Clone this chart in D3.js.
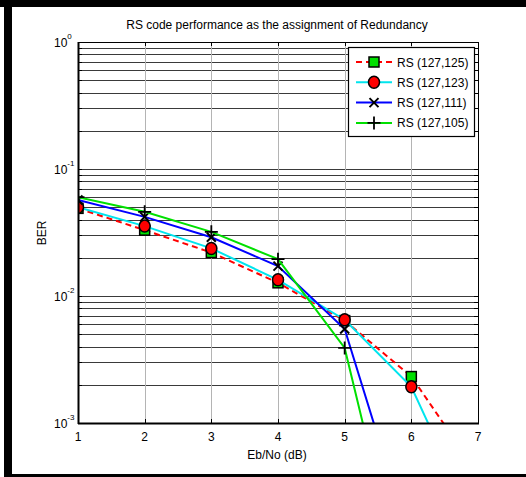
<!DOCTYPE html>
<html>
<head>
<meta charset="utf-8">
<script src="https://cdn.jsdelivr.net/npm/d3@7/dist/d3.min.js"></script>
<style>
  html, body { margin: 0; padding: 0; background: #fff; }
  svg { display: block; }
  text { font-family: "Liberation Sans", Arial, sans-serif; fill: #000; }
</style>
</head>
<body>
<svg id="chart" width="526" height="477"></svg>
<script>
// Eb/No values (dB)
const ebno = [1, 2, 3, 4, 5, 6, 7];

// BER per code rate
const ber125 = [0.049, 0.033, 0.022, 0.0127, 0.0064, 0.00232, 0.0004];
const ber123 = [0.050, 0.0355, 0.0237, 0.0134, 0.0065, 0.00193, 0.00014];
const ber111 = [0.057, 0.042, 0.029, 0.0172, 0.0055, 0.00011];
const ber105 = [0.060, 0.046, 0.032, 0.0195, 0.0039, 0.000026];

const seriesNames = ["RS (127,125)", "RS (127,123)", "RS (127,111)", "RS (127,105)"];

const xTicks = [1, 2, 3, 4, 5, 6, 7];
const yExponents = [0, -1, -2, -3];

const titleText = "RS code performance as the assignment of Redundancy";
const xLabelText = "Eb/No (dB)";
const yLabelText = "BER";

const series = [
  { name: seriesNames[0], values: ber125, color: "#ff0000", dash: "6,4", marker: "square" },
  { name: seriesNames[1], values: ber123, color: "#00e5ee", dash: null, marker: "circle" },
  { name: seriesNames[2], values: ber111, color: "#0000ff", dash: null, marker: "x" },
  { name: seriesNames[3], values: ber105, color: "#00e000", dash: null, marker: "plus" }
];

const svg = d3.select("#chart");
const W = 526, H = 477;
const plot = { left: 78, right: 478, top: 42, bottom: 423 };

// outer frame (thick black border, open on the right)
svg.append("rect").attr("x", 0).attr("y", 0).attr("width", W).attr("height", 7).attr("fill", "#000");
svg.append("rect").attr("x", 4).attr("y", 0).attr("width", 8).attr("height", H).attr("fill", "#000");
svg.append("rect").attr("x", 4).attr("y", 474).attr("width", W - 4).attr("height", 3).attr("fill", "#000");

const x = d3.scaleLinear().domain([1, 7]).range([plot.left, plot.right]);
const y = d3.scaleLog().domain([1e-3, 1]).range([plot.bottom, plot.top]);

// grid values: every minor step in each decade
const minorVals = [];
for (let e = -3; e < 0; e++) {
  for (let m = 1; m <= 9; m++) minorVals.push(m * Math.pow(10, e));
}
minorVals.push(1);

const grid = svg.append("g");
// horizontal grid at every decade step
grid.selectAll("line.h").data(minorVals.filter(v => v > 1e-3 && v < 1)).enter().append("line")
  .attr("x1", plot.left).attr("x2", plot.right)
  .attr("y1", d => Math.round(y(d)) + 0.5).attr("y2", d => Math.round(y(d)) + 0.5)
  .attr("stroke", "#3a3a3a").attr("stroke-width", 1);
// vertical grid at major x ticks
grid.selectAll("line.v").data(xTicks.filter(v => v > 1 && v < 7)).enter().append("line")
  .attr("x1", d => Math.round(x(d)) + 0.5).attr("x2", d => Math.round(x(d)) + 0.5)
  .attr("y1", plot.top).attr("y2", plot.bottom)
  .attr("stroke", "#b4b4b4").attr("stroke-width", 1);

// inward ticks on all four sides
const tickLen = 4;
const ticks = svg.append("g").attr("stroke", "#000").attr("stroke-width", 1);
minorVals.forEach(v => {
  const yy = Math.round(y(v)) + 0.5;
  ticks.append("line").attr("x1", plot.left).attr("x2", plot.left + tickLen).attr("y1", yy).attr("y2", yy);
  ticks.append("line").attr("x1", plot.right).attr("x2", plot.right - tickLen).attr("y1", yy).attr("y2", yy);
});
xTicks.forEach(v => {
  const xx = Math.round(x(v)) + 0.5;
  ticks.append("line").attr("x1", xx).attr("x2", xx).attr("y1", plot.bottom).attr("y2", plot.bottom - tickLen);
  ticks.append("line").attr("x1", xx).attr("x2", xx).attr("y1", plot.top).attr("y2", plot.top + tickLen);
});

// data lines, clipped to the axes box
svg.append("defs").append("clipPath").attr("id", "plotClip")
  .append("rect").attr("x", plot.left).attr("y", plot.top)
  .attr("width", plot.right - plot.left).attr("height", plot.bottom - plot.top);

const line = d3.line().x(d => x(d[0])).y(d => y(d[1]));

function drawMarker(g, type, cx, cy) {
  if (type === "square") {
    g.append("rect").attr("x", cx - 5).attr("y", cy - 5).attr("width", 10).attr("height", 10)
      .attr("fill", "#00e000").attr("stroke", "#000").attr("stroke-width", 1.5);
  } else if (type === "circle") {
    g.append("ellipse").attr("cx", cx).attr("cy", cy).attr("rx", 5.5).attr("ry", 6)
      .attr("fill", "#ff0000").attr("stroke", "#000").attr("stroke-width", 1.5);
  } else if (type === "x") {
    const s = 4.5;
    g.append("path").attr("d", `M${cx - s},${cy - s}L${cx + s},${cy + s}M${cx - s},${cy + s}L${cx + s},${cy - s}`)
      .attr("stroke", "#000").attr("stroke-width", 2).attr("fill", "none");
  } else if (type === "plus") {
    const s = 6.5;
    g.append("path").attr("d", `M${cx - s},${cy}L${cx + s},${cy}M${cx},${cy - s}L${cx},${cy + s}`)
      .attr("stroke", "#000").attr("stroke-width", 1.8).attr("fill", "none");
  }
}

const dataG = svg.append("g").attr("clip-path", "url(#plotClip)");
series.forEach(s => {
  const pts = s.values.map((v, i) => [ebno[i], v]);
  dataG.append("path").datum(pts).attr("d", line)
    .attr("fill", "none").attr("stroke", s.color).attr("stroke-width", 2)
    .attr("stroke-dasharray", s.dash);
  pts.filter(p => p[1] >= 1e-3 && p[0] <= 7).forEach(p => drawMarker(dataG, s.marker, x(p[0]), y(p[1])));
});

// axes box
svg.append("rect").attr("x", plot.left + 0.5).attr("y", plot.top + 0.5)
  .attr("width", plot.right - plot.left).attr("height", plot.bottom - plot.top)
  .attr("fill", "none").attr("stroke", "#000").attr("stroke-width", 1);
svg.append("line").attr("x1", plot.left).attr("x2", plot.right + 1)
  .attr("y1", plot.bottom + 0.5).attr("y2", plot.bottom + 0.5)
  .attr("stroke", "#000").attr("stroke-width", 2);
svg.append("line").attr("x1", plot.left + 0.5).attr("x2", plot.left + 0.5)
  .attr("y1", plot.top).attr("y2", plot.bottom + 1)
  .attr("stroke", "#000").attr("stroke-width", 2);

// x tick labels
svg.append("g").selectAll("text").data(xTicks).enter().append("text")
  .attr("x", d => x(d)).attr("y", 441).attr("text-anchor", "middle")
  .attr("font-size", 12).text(d => d);

// y tick labels: 10 with superscript exponent
yExponents.forEach(e => {
  const t = svg.append("text").attr("x", 54).attr("y", y(Math.pow(10, e)) + 5).attr("font-size", 12);
  t.append("tspan").text("10");
  t.append("tspan").attr("dy", -8).attr("font-size", 8).text(e);
});

// title and axis labels
svg.append("text").attr("x", 277).attr("y", 29).attr("text-anchor", "middle")
  .attr("font-size", 12).text(titleText);
svg.append("text").attr("x", 277).attr("y", 459).attr("text-anchor", "middle")
  .attr("font-size", 12).text(xLabelText);
svg.append("text").attr("transform", "translate(46,233) rotate(-90)").attr("text-anchor", "middle")
  .attr("font-size", 12).text(yLabelText);

// legend
const leg = svg.append("g");
leg.append("rect").attr("x", 348.5).attr("y", 47.5).attr("width", 126).attr("height", 89)
  .attr("fill", "#fff").attr("stroke", "#000").attr("stroke-width", 1.2);
series.forEach((s, i) => {
  const ly = 62 + i * 20.3;
  leg.append("line").attr("x1", 356).attr("x2", 392).attr("y1", ly).attr("y2", ly)
    .attr("stroke", s.color).attr("stroke-width", 2).attr("stroke-dasharray", s.dash);
  drawMarker(leg, s.marker, 374, ly);
  leg.append("text").attr("x", 397).attr("y", ly + 4.5).attr("font-size", 12).text(s.name);
});
</script>
</body>
</html>
